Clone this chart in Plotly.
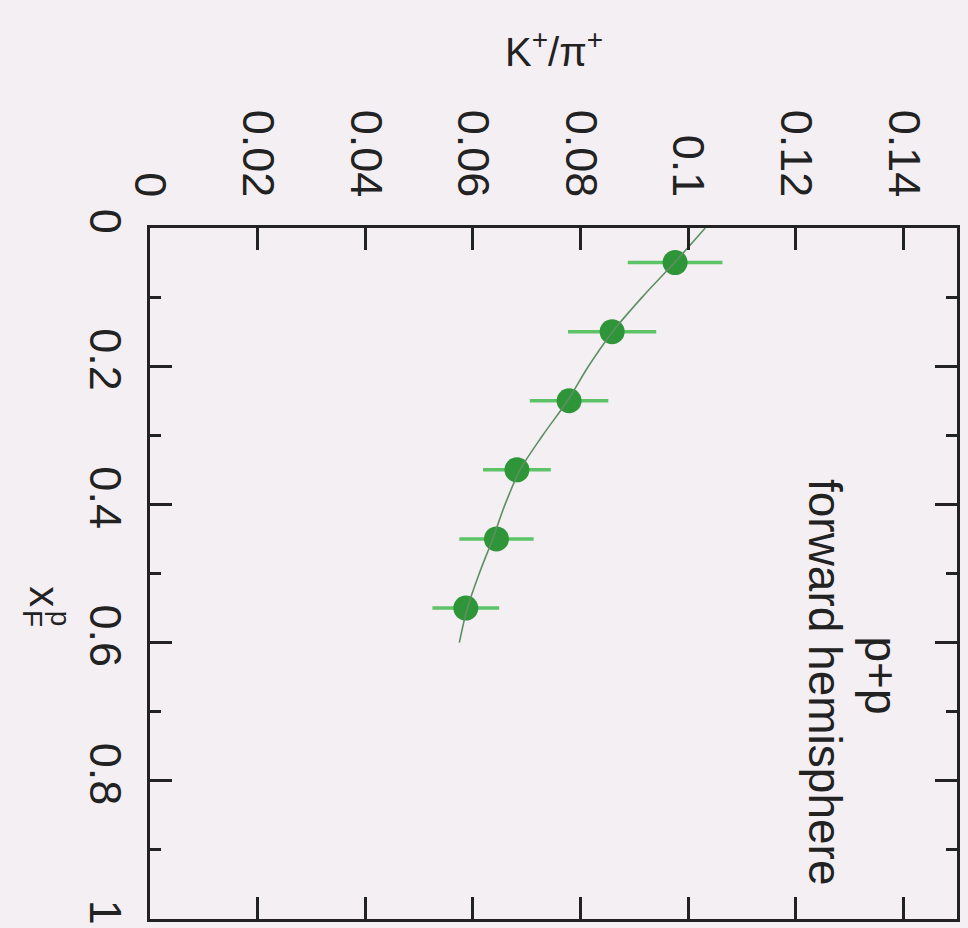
import plotly.graph_objects as go

# K+/pi+ ratio vs Feynman x (p+p, forward hemisphere)
xf = [0.05, 0.15, 0.25, 0.35, 0.45, 0.55]
ratio = [0.0976, 0.0859, 0.0779, 0.0682, 0.0644, 0.0587]
ratio_err = [0.0088, 0.0082, 0.0073, 0.0063, 0.0069, 0.0062]

# smooth interpolating curve
xf_curve = [0.0, 0.05, 0.1, 0.15, 0.2, 0.25, 0.3, 0.35, 0.4, 0.45, 0.5, 0.55, 0.6]
ratio_curve = [0.1032, 0.0975, 0.0915, 0.0860, 0.0815, 0.0776, 0.0730,
               0.0688, 0.0660, 0.0637, 0.0612, 0.0590, 0.0575]

ratio_ticks = [0, 0.02, 0.04, 0.06, 0.08, 0.10, 0.12, 0.14]
ratio_labels = ["0", "0.02", "0.04", "0.06", "0.08", "0.1", "0.12", "0.14"]
xf_ticks = [0, 0.2, 0.4, 0.6, 0.8, 1.0]
xf_labels = ["0", "0.2", "0.4", "0.6", "0.8", "1"]

FONT = "Liberation Sans, Arial, sans-serif"
BG = "#f3eff3"
INK = "#222222"

fig = go.Figure()

fig.add_trace(go.Scatter(
    x=ratio, y=xf, mode="markers",
    marker=dict(size=25, color="#2e9638", line=dict(width=0)),
    error_x=dict(type="data", array=ratio_err, width=0, thickness=3.5,
                 color="#5cc466"),
    showlegend=False,
))

fig.add_trace(go.Scatter(
    x=ratio_curve, y=xf_curve, mode="lines", line_shape="spline",
    line=dict(color="#5f8f64", width=1.6), showlegend=False,
))

axis_common = dict(
    showline=True, linewidth=3, linecolor=INK, mirror="ticks",
    ticks="inside", ticklen=22, tickwidth=2.5, tickcolor=INK,
    showgrid=False, zeroline=False, tickangle=90,
    tickfont=dict(family=FONT, size=45, color=INK),
)

fig.update_xaxes(
    range=[0, 0.15], side="top", tickmode="array",
    tickvals=ratio_ticks, ticktext=ratio_labels, ticklabelstandoff=12,
    **axis_common,
)
fig.update_yaxes(
    range=[1, 0], tickmode="array", tickvals=xf_ticks, ticktext=xf_labels,
    ticklabelstandoff=3,
    minor=dict(ticks="inside", ticklen=11, tickwidth=2.5, tickcolor=INK,
               tickvals=[0.1, 0.3, 0.5, 0.7, 0.9]),
    **axis_common,
)

fig.add_annotation(
    text="K<sup>+</sup>/π<sup>+</sup>", xref="paper", yref="paper",
    x=0.5, y=1.259, showarrow=False, xanchor="center", yanchor="middle",
    font=dict(family=FONT, size=40, color=INK),
)

# x_F^p axis title, drawn rotated with stacked sub/superscript
fig.add_annotation(
    text="x", xref="paper", yref="paper", x=-0.130, y=0.467,
    showarrow=False, textangle=90, xanchor="center", yanchor="middle",
    font=dict(family=FONT, size=42, color=INK),
)
fig.add_annotation(
    text="p", xref="paper", yref="paper", x=-0.111, y=0.434,
    showarrow=False, textangle=90, xanchor="center", yanchor="middle",
    font=dict(family=FONT, size=28, color=INK),
)
fig.add_annotation(
    text="F", xref="paper", yref="paper", x=-0.145, y=0.434,
    showarrow=False, textangle=90, xanchor="center", yanchor="middle",
    font=dict(family=FONT, size=28, color=INK),
)

fig.add_annotation(
    text="p+p", xref="x", yref="y",
    x=0.1358, y=0.647, showarrow=False, textangle=90,
    xanchor="center", yanchor="middle",
    font=dict(family=FONT, size=46, color=INK),
)
fig.add_annotation(
    text="forward hemisphere", xref="x", yref="y",
    x=0.1256, y=0.658, showarrow=False, textangle=90,
    xanchor="center", yanchor="middle",
    font=dict(family=FONT, size=46, color=INK),
)

fig.update_layout(
    width=968, height=928,
    margin=dict(l=150, r=11, t=228, b=3),
    paper_bgcolor=BG, plot_bgcolor=BG,
)

fig.write_html("out.html")
